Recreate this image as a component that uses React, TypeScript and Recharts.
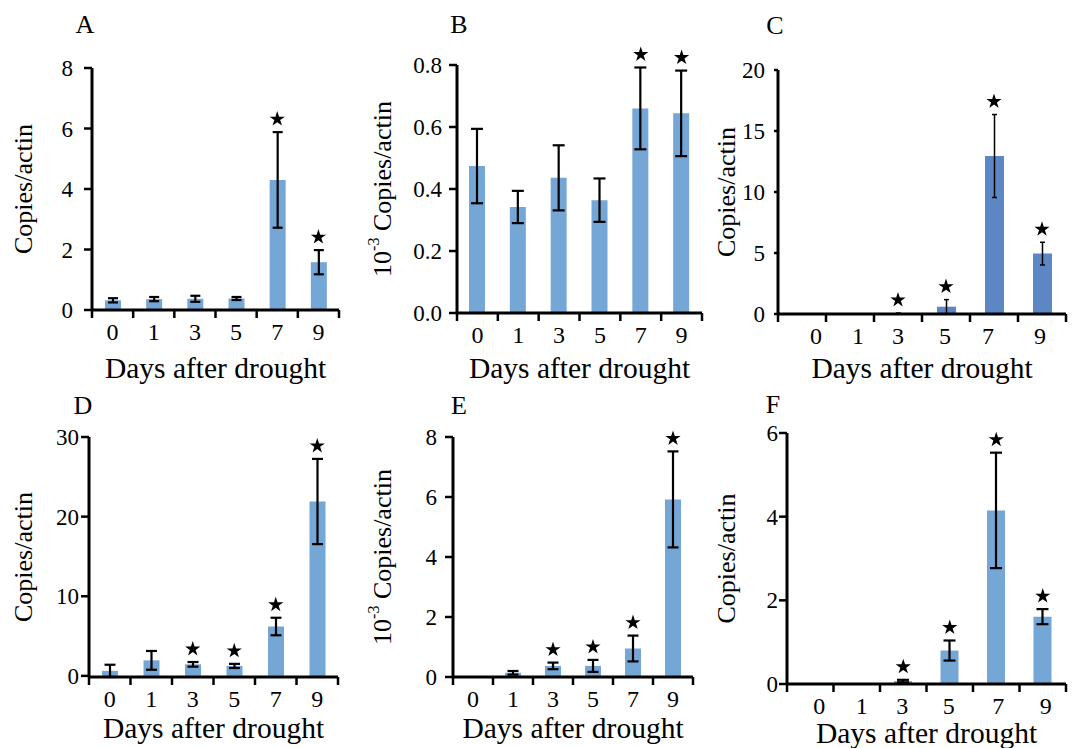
import React from "react";
import {
  ComposedChart,
  Bar,
  Line,
  XAxis,
  YAxis,
  ErrorBar,
  Customized,
  Symbols,
} from "recharts";

// ─── Data ─────────────────────────────────────────────────────────────────────
const DAYS = ["0", "1", "3", "5", "7", "9"];

const A_MEAN = [0.32, 0.36, 0.37, 0.38, 4.3, 1.58];
const A_ERR = [0.07, 0.07, 0.1, 0.05, 1.58, 0.4];
const A_SIG = [0, 0, 0, 0, 1, 1];
const A_TICKS = [0, 2, 4, 6, 8];

const B_MEAN = [0.474, 0.342, 0.436, 0.364, 0.66, 0.644];
const B_ERR = [0.12, 0.052, 0.105, 0.07, 0.132, 0.138];
const B_SIG = [0, 0, 0, 0, 1, 1];
const B_TICKS = [0, 0.2, 0.4, 0.6, 0.8];

const C_MEAN = [0, 0, 0.05, 0.6, 12.95, 4.95];
const C_ERR = [0, 0, 0.03, 0.58, 3.4, 0.93];
const C_SIG = [0, 0, 1, 1, 1, 1];
const C_TICKS = [0, 5, 10, 15, 20];

const D_MEAN = [0.63, 1.95, 1.45, 1.25, 6.2, 21.9];
const D_ERR = [0.77, 1.18, 0.29, 0.26, 1.1, 5.35];
const D_SIG = [0, 0, 1, 1, 1, 1];
const D_TICKS = [0, 10, 20, 30];

const E_MEAN = [0.03, 0.14, 0.37, 0.37, 0.95, 5.92];
const E_ERR = [0, 0.06, 0.11, 0.2, 0.43, 1.6];
const E_SIG = [0, 0, 1, 1, 1, 1];
const E_TICKS = [0, 2, 4, 6, 8];

const F_MEAN = [0, 0, 0.07, 0.8, 4.15, 1.61];
const F_ERR = [0, 0, 0.03, 0.24, 1.38, 0.18];
const F_SIG = [0, 0, 1, 1, 1, 1];
const F_TICKS = [0, 2, 4, 6];

const X_TITLE = "Days after drought";
const Y_TITLE = "Copies/actin";

// ─── Styling / layout ─────────────────────────────────────────────────────────
const FONT = '"Liberation Serif", "Times New Roman", Times, serif';
const LIGHT = "#74A6D6";
const DARK = "#5C87C4";

const PAD_L = 110;
const PAD_T = 60;
const PAD_R = 10;
const AXIS_H = 80;

const PANELS = [
  { name: "A", mean: A_MEAN, err: A_ERR, sig: A_SIG, ticks: A_TICKS, exp: false, digits: 0, color: LIGHT,
    x0: 92, x1: 339, top: 68, zero: 310, letter: [85, 24], yTitleX: 23, yTick: 8, yGap: 11,
    titleDy: 58, cap: 5, errW: 2.2, barSize: 16, shift: null },
  { name: "B", mean: B_MEAN, err: B_ERR, sig: B_SIG, ticks: B_TICKS, exp: true, digits: 1, color: LIGHT,
    x0: 457, x1: 702, top: 65, zero: 313, letter: [459, 24], yTitleX: 382, yTick: 8, yGap: 7,
    titleDy: 55, cap: 6, errW: 2.2, barSize: 16, shift: null },
  { name: "C", mean: C_MEAN, err: C_ERR, sig: C_SIG, ticks: C_TICKS, exp: false, digits: 0, color: DARK,
    x0: 778, x1: 1066, top: 70, zero: 314, letter: [775, 25], yTitleX: 726, yTick: 4, yGap: 9,
    titleDy: 54, cap: 2.5, errW: 1.5, barSize: 19, shift: [14, 8, 0, -1, -6, -2] },
  { name: "D", mean: D_MEAN, err: D_ERR, sig: D_SIG, ticks: D_TICKS, exp: false, digits: 0, color: LIGHT,
    x0: 89, x1: 338, top: 437, zero: 677, letter: [83, 405], yTitleX: 23, yTick: 8, yGap: 2,
    titleDy: 51, cap: 5.5, errW: 2.2, barSize: 16, shift: null },
  { name: "E", mean: E_MEAN, err: E_ERR, sig: E_SIG, ticks: E_TICKS, exp: true, digits: 0, color: LIGHT,
    x0: 453, x1: 693, top: 437, zero: 677, letter: [459, 405], yTitleX: 382, yTick: 8, yGap: 8,
    titleDy: 51, cap: 5.5, errW: 2.2, barSize: 16, shift: null },
  { name: "F", mean: F_MEAN, err: F_ERR, sig: F_SIG, ticks: F_TICKS, exp: false, digits: 0, color: LIGHT,
    x0: 787, x1: 1066, top: 433, zero: 684, letter: [773, 404], yTitleX: 726, yTick: 8, yGap: 1,
    titleDy: 49, cap: 6, errW: 2.2, barSize: 18, shift: [9, 5, -1, -1, 2, 3] },
];

const buildRows = (mean: number[], err: number[], sig: number[]) =>
  DAYS.map((day, i) => ({
    day,
    mean: mean[i],
    err: err[i],
    star: sig[i] ? mean[i] + err[i] : null,
  }));

// ─── X tick: label at centre, tick marks on category boundaries ───────────────
const DayTick = ({ x, y, payload, index, band, shift }: any) => {
  const dx = shift ? shift[index] : 0;
  return (
    <g>
      <line x1={x - band / 2} y1={y} x2={x - band / 2} y2={y + 8} stroke="#000" strokeWidth={2.5} />
      {index === DAYS.length - 1 && (
        <line x1={x + band / 2} y1={y} x2={x + band / 2} y2={y + 8} stroke="#000" strokeWidth={2.5} />
      )}
      <text
        x={x + dx}
        y={y + 22}
        textAnchor="middle"
        dominantBaseline="central"
        fontSize={24}
        fontFamily={FONT}
        fill="#000"
      >
        {payload.value}
      </text>
    </g>
  );
};

// ─── Significance star, a fixed gap above the error bar ───────────────────────
const StarDot = ({ cx, cy }: any) => {
  if (cx == null || cy == null || isNaN(cy)) return null;
  return <Symbols cx={cx} cy={cy - 13} type="star" size={72} fill="#000" stroke="none" />;
};

// ─── Panel letter and axis titles ─────────────────────────────────────────────
const PanelText = ({ p, left, top }: any) => {
  const yx = p.yTitleX - left;
  const yy = (p.top + p.zero) / 2 - top;
  return (
    <g fontFamily={FONT} fill="#000">
      <text x={p.letter[0] - left} y={p.letter[1] - top} fontSize={26} textAnchor="middle" dominantBaseline="central">
        {p.name}
      </text>
      <text
        transform={`translate(${yx},${yy}) rotate(-90)`}
        fontSize={26}
        textAnchor="middle"
        dominantBaseline="central"
      >
        {p.exp ? (
          <>
            <tspan>10</tspan>
            <tspan dy={-9} fontSize={16}>-3</tspan>
            <tspan dy={9}>{" " + Y_TITLE}</tspan>
          </>
        ) : (
          Y_TITLE
        )}
      </text>
      <text
        x={(p.x0 + p.x1) / 2 - left}
        y={p.zero + p.titleDy - top}
        fontSize={29.5}
        textAnchor="middle"
        dominantBaseline="central"
      >
        {X_TITLE}
      </text>
    </g>
  );
};

const ChartPanel = ({ p }: any) => {
  const rows = buildRows(p.mean, p.err, p.sig);
  const left = p.x0 - PAD_L;
  const top = p.top - PAD_T;
  const width = p.x1 - p.x0 + PAD_L + PAD_R;
  const height = p.zero - p.top + PAD_T + AXIS_H;
  const band = (p.x1 - p.x0) / DAYS.length;

  return (
    <div style={{ position: "absolute", left, top, width, height }}>
      <ComposedChart
        width={width}
        height={height}
        data={rows}
        margin={{ top: PAD_T, right: PAD_R, bottom: 0, left: 0 }}
      >
        <XAxis
          dataKey="day"
          height={AXIS_H}
          interval={0}
          axisLine={{ stroke: "#000", strokeWidth: 3 }}
          tickLine={false}
          tickSize={0}
          tickMargin={0}
          tick={<DayTick band={band} shift={p.shift} />}
        />
        <YAxis
          width={PAD_L}
          domain={[0, p.ticks[p.ticks.length - 1]]}
          ticks={p.ticks}
          interval={0}
          axisLine={{ stroke: "#000", strokeWidth: 3 }}
          tickLine={{ stroke: "#000", strokeWidth: 2.5 }}
          tickSize={p.yTick}
          tickMargin={p.yGap}
          tick={{ fill: "#000", fontSize: 23, fontFamily: FONT }}
          tickFormatter={(v: number) => v.toFixed(p.digits)}
        />
        <Bar dataKey="mean" fill={p.color} barSize={p.barSize} isAnimationActive={false}>
          <ErrorBar dataKey="err" width={p.cap} strokeWidth={p.errW} stroke="#000" />
        </Bar>
        <Line
          dataKey="star"
          stroke="none"
          activeDot={false}
          legendType="none"
          isAnimationActive={false}
          dot={(props: any) => <StarDot key={`s-${props.index}`} {...props} />}
        />
        <Customized component={<PanelText p={p} left={left} top={top} />} />
      </ComposedChart>
    </div>
  );
}

export default function App() {
  return (
    <div
      style={{
        position: "absolute",
        left: 0,
        top: 0,
        width: 1073,
        height: 748,
        overflow: "hidden",
        background: "#fff",
      }}
    >
      {PANELS.map((p) => (
        <ChartPanel key={p.name} p={p} />
      ))}
    </div>
  );
}
